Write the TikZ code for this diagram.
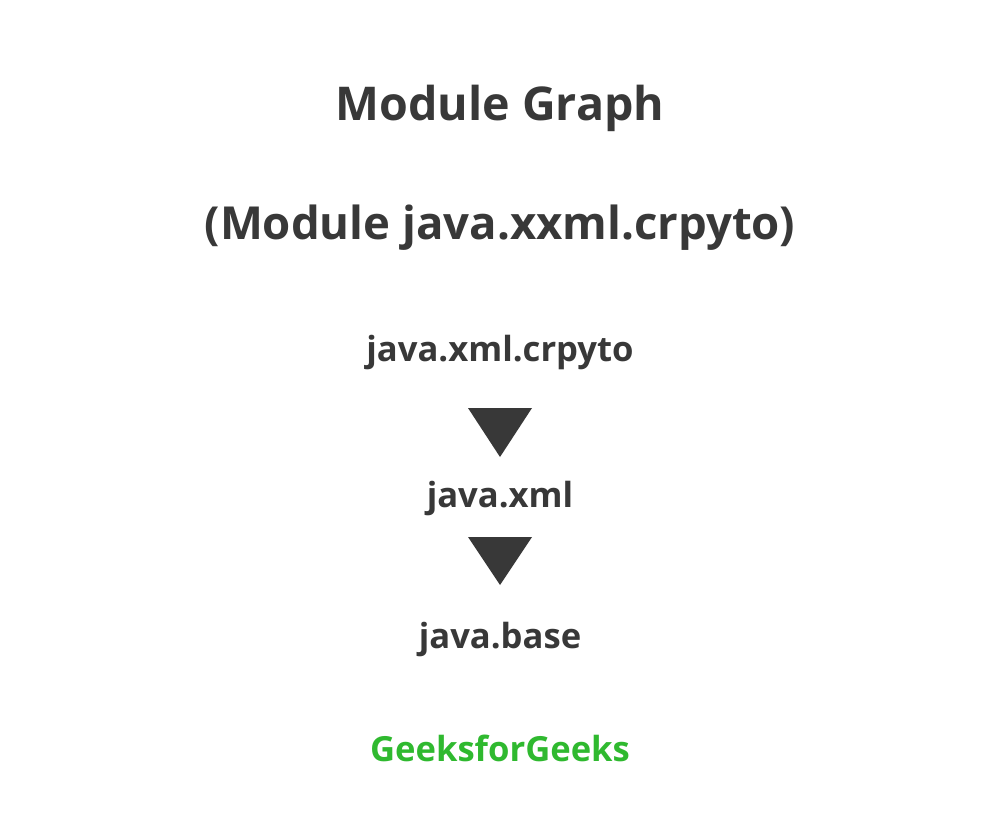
\documentclass[tikz,border=0pt]{standalone}
\usepackage{fontspec}
\setmainfont{Open Sans}
\usetikzlibrary{positioning}
\definecolor{inkgray}{HTML}{383838}
\definecolor{geekgreen}{HTML}{2FB92F}

\begin{document}
\begin{tikzpicture}[x=0.02cm,y=-0.02cm,every node/.style={font=\bfseries,text=inkgray,anchor=base,inner sep=0pt},title/.style={font=\bfseries\fontsize{26.5}{32}\selectfont},subtitle/.style={font=\bfseries\fontsize{25.9}{32}\selectfont},module/.style={font=\bfseries\fontsize{19.7}{24}\selectfont},tip/.style={fill=inkgray}]
  \fill[white] (0,0) rectangle (1000,817);
  \node[title] (graph) at (500,121) {Module Graph};
  \node[subtitle] (sub) at (500,240) {(Module java.xxml.crpyto)};
  \node[module] (crypto) at (500,361) {java.xml.crpyto};
  \node[module] (xml) at (500,507) {java.xml};
  \node[module] (base) at (500,648) {java.base};
  \node[module,text=geekgreen] (gfg) at (500,761) {GeeksforGeeks};
  % arrow heads between the modules
  \fill[tip] (468,408) -- (532,408) -- (500,457) -- cycle;
  \fill[tip] (468,537) -- (532,537) -- (500,585) -- cycle;
\end{tikzpicture}
\end{document}
